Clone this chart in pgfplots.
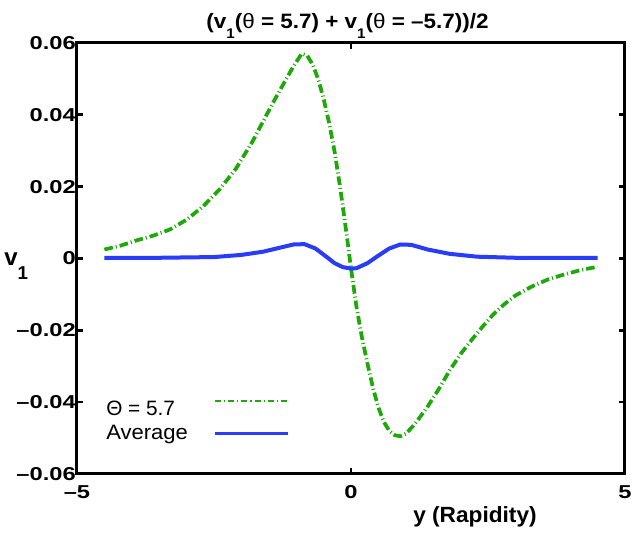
\documentclass[border=0pt]{standalone}
\usepackage{graphicx}
\usepackage{pgfplots}
\pgfplotsset{compat=1.18}
\usepackage{fontspec}
\setmainfont{Liberation Sans}
\definecolor{cgreen}{RGB}{30,168,10}
\definecolor{cblue}{RGB}{40,60,250}
\newcommand\tl[1]{\scalebox{1.27}[1]{#1}}

\pgfplotstableread{
x y
-4.5 0.0025
-4.2 0.0036
-3.9 0.0051
-3.6 0.0064
-3.3 0.0081
-3.0 0.0108
-2.7 0.0145
-2.4 0.0192
-2.1 0.0250
-1.8 0.0325
-1.6 0.0383
-1.4 0.0440
-1.2 0.0495
-1.05 0.0535
-0.9 0.0570
-0.8 0.0565
-0.7 0.0540
-0.6 0.0500
-0.5 0.0445
-0.4 0.0378
-0.3 0.0298
-0.2 0.0200
-0.1 0.0090
0.0 -0.0027
0.1 -0.0135
0.2 -0.0220
0.3 -0.0292
0.4 -0.0360
0.5 -0.0415
0.6 -0.0455
0.7 -0.0480
0.8 -0.0492
0.9 -0.0495
1.0 -0.0488
1.1 -0.0472
1.2 -0.0454
1.4 -0.0412
1.6 -0.0364
1.8 -0.0312
2.0 -0.0266
2.2 -0.0227
2.4 -0.0190
2.6 -0.0155
2.8 -0.0127
3.0 -0.0103
3.3 -0.0078
3.6 -0.0058
3.9 -0.0044
4.2 -0.0032
4.5 -0.0023
}\greendata

\pgfplotstableread{
x y
-4.5 0.0002
-3.5 0.0002
-2.5 0.0004
-2.0 0.0010
-1.6 0.0019
-1.3 0.0030
-1.05 0.0039
-0.85 0.0040
-0.65 0.0028
-0.45 0.0005
-0.3 -0.0013
-0.15 -0.0024
0.0 -0.0028
0.1 -0.0027
0.3 -0.0013
0.5 0.0008
0.7 0.0028
0.9 0.0039
1.1 0.0038
1.4 0.0025
1.8 0.0013
2.3 0.0005
3.0 0.0002
4.5 0.0002
}\bluedata

\begin{document}
\begin{tikzpicture}
\begin{axis}[
  at={(0pt,0pt)}, anchor=south west,
  scale only axis, width=411pt, height=323.25pt,
  xmin=-5, xmax=5, ymin=-0.06, ymax=0.06,
  xtick={-5,0,5}, xticklabels={\tl{\textendash5},\tl{0},\tl{5}},
  ytick={-0.06,-0.04,-0.02,0,0.02,0.04,0.06},
  yticklabels={\tl{\textendash0.06},\tl{\textendash0.04},\tl{\textendash0.02},\tl{0},\tl{0.02},\tl{0.04},\tl{0.06}},
  scaled y ticks=false, scaled x ticks=false,
  axis line style={line width=2.25pt, black},
  major tick style={line width=2pt, black},
  major tick length=4.5pt,
  tick align=inside,
  ticklabel style={font=\fontsize{14}{16}\selectfont\bfseries},
  xticklabel style={inner sep=0pt, yshift=-8.25pt},
  yticklabel style={inner sep=0pt, xshift=-0.75pt},
  title={\scalebox{1.08}[1]{(v\raisebox{-7.5pt}{\fontsize{10.5}{12}\selectfont 1}({\mdseries θ} = 5.7) + v\raisebox{-7.5pt}{\fontsize{10.5}{12}\selectfont 1}({\mdseries θ} = \textendash5.7))/2}},
  every axis title/.style={at={(axis description cs:0.4937,1)}, anchor=base, yshift=10.5pt, inner sep=0pt, font=\fontsize{15.6}{18}\selectfont\bfseries},
  xlabel={\scalebox{1.03}[1]{y (Rapidity)}},
  every axis x label/.style={at={(axis description cs:0.7263,0)}, anchor=base, yshift=-36.75pt, inner sep=0pt, font=\fontsize{16.5}{19}\selectfont\bfseries},
  ylabel={{\fontsize{18}{20}\selectfont v}\raisebox{-10.5pt}{\fontsize{14}{16}\selectfont 1}},
  every axis y label/.style={at={(axis description cs:0,0.4849)}, anchor=base west, xshift=-54.75pt, inner sep=0pt, font=\bfseries},
  legend plot pos=right,
  legend cell align=left,
  legend image code/.code={\draw[#1] (0pt,0pt) -- (55pt,0pt);},
  legend style={at={(axis description cs:0.0505,0.173)}, anchor=north west, draw=none, fill=none, inner sep=0pt,
    font=\fontsize{15.6}{18}\selectfont, column sep=18pt, row sep=4pt, nodes={inner sep=1pt}},
]
\addplot[cgreen, line width=2.8pt, dash pattern=on 6.5pt off 2.25pt on 0.75pt off 2.25pt,
  legend image post style={line width=1.6pt, dash pattern=on 4.5pt off 2.25pt on 1pt off 2.25pt, yshift=6pt}] table[x=x,y=y] {\greendata};
\addlegendentry{Θ = 5.7}
\addplot[cblue, line width=3pt, legend image post style={line width=2pt}] table[x=x,y=y] {\bluedata};
\addlegendentry{\scalebox{1.06}[1]{Average}}
\end{axis}
\pgfresetboundingbox
\useasboundingbox (-57.75pt,-44.25pt) rectangle (420pt,355.5pt);
\end{tikzpicture}
\end{document}
